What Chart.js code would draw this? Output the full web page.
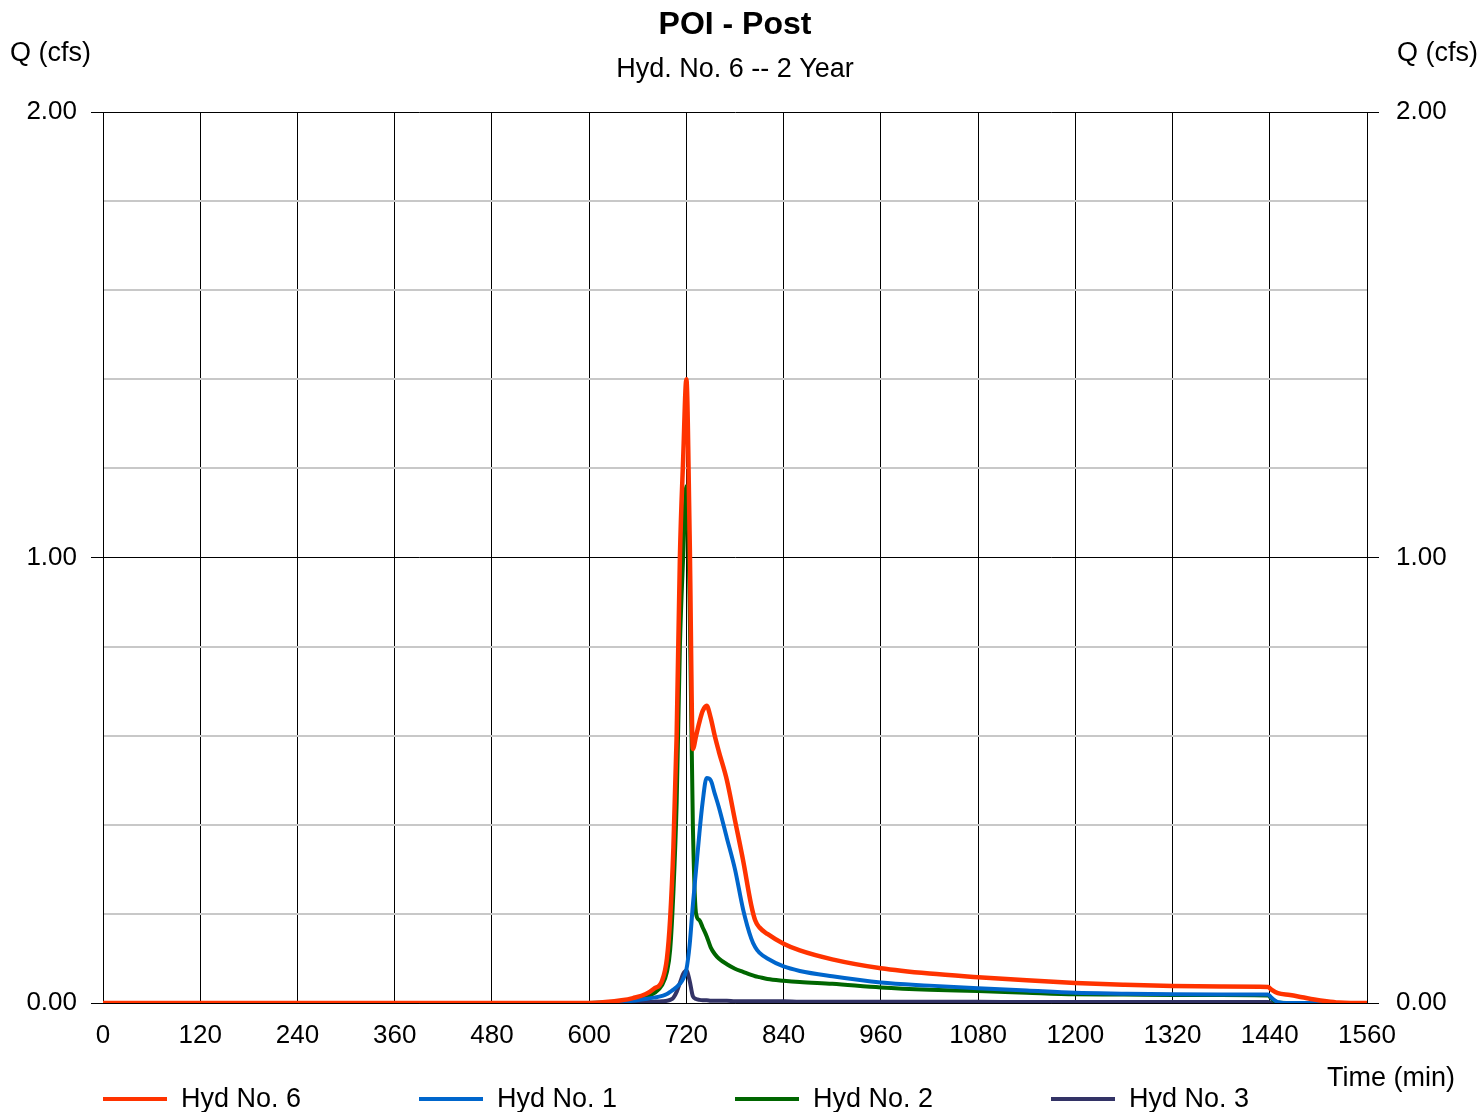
<!DOCTYPE html>
<html>
<head>
<meta charset="utf-8">
<script src="https://cdn.jsdelivr.net/npm/chart.js@4.4.1/dist/chart.umd.min.js"></script>
<style>
  html, body { margin: 0; padding: 0; background: #fff; }
  canvas { display: block; }
</style>
</head>
<body>
<canvas id="hydChart" width="1478" height="1112"></canvas>
<script>
const times = [0, 600, 620, 640, 654, 670, 680, 690, 696, 700, 704, 708, 712, 716, 720, 724, 728, 732, 736, 740, 745, 750, 755, 760, 770, 780, 790, 800, 805, 810, 820, 840, 860, 900, 960, 1020, 1080, 1140, 1200, 1260, 1320, 1380, 1438, 1442, 1450, 1465, 1480, 1495, 1510, 1525, 1540, 1560];

const hyd6 = [0, 0, 0.002, 0.006, 0.011, 0.02, 0.032, 0.05, 0.1, 0.19, 0.35, 0.6, 1.0, 1.22, 1.40, 1.05, 0.57, 0.60, 0.63, 0.655, 0.667, 0.64, 0.60, 0.565, 0.50, 0.41, 0.32, 0.22, 0.185, 0.17, 0.155, 0.133, 0.118, 0.098, 0.078, 0.066, 0.058, 0.051, 0.045, 0.041, 0.038, 0.037, 0.036, 0.03, 0.022, 0.018, 0.013, 0.008, 0.004, 0.001, 0, 0];
const hyd1 = [0, 0, 0.001, 0.003, 0.005, 0.009, 0.012, 0.016, 0.02, 0.025, 0.03, 0.036, 0.043, 0.054, 0.075, 0.13, 0.22, 0.30, 0.38, 0.45, 0.505, 0.50, 0.47, 0.44, 0.37, 0.30, 0.21, 0.145, 0.125, 0.113, 0.10, 0.082, 0.072, 0.06, 0.046, 0.039, 0.033, 0.028, 0.023, 0.021, 0.0195, 0.019, 0.019, 0.012, 0.002, 0, 0, 0, 0, 0, 0, 0];
const hyd2 = [0, 0, 0.001, 0.004, 0.008, 0.014, 0.022, 0.04, 0.07, 0.12, 0.25, 0.45, 0.8, 1.0, 1.16, 0.9, 0.4, 0.2, 0.186, 0.17, 0.15, 0.125, 0.11, 0.1, 0.087, 0.077, 0.07, 0.063, 0.06, 0.058, 0.054, 0.05, 0.047, 0.043, 0.035, 0.03, 0.027, 0.023, 0.0195, 0.019, 0.018, 0.018, 0.017, 0.01, 0.001, 0, 0, 0, 0, 0, 0, 0];
const hyd3 = [0, 0, 0, 0.001, 0.001, 0.002, 0.003, 0.004, 0.005, 0.007, 0.012, 0.025, 0.045, 0.065, 0.073, 0.05, 0.015, 0.009, 0.007, 0.006, 0.006, 0.005, 0.005, 0.005, 0.005, 0.004, 0.004, 0.004, 0.004, 0.004, 0.004, 0.004, 0.003, 0.003, 0.003, 0.003, 0.003, 0.002, 0.002, 0.002, 0.002, 0.002, 0.002, 0.001, 0, 0, 0, 0, 0, 0, 0, 0];

const seriesNames = ['Hyd No. 6', 'Hyd No. 1', 'Hyd No. 2', 'Hyd No. 3'];
const seriesColors = ['#ff3300', '#0066cc', '#006600', '#333366'];
const seriesValues = [hyd6, hyd1, hyd2, hyd3];

const FONT = '"Liberation Sans", Arial, sans-serif';

function isMajor(v) {
  return Math.abs(v - Math.round(v)) < 1e-6;
}

const textPlugin = {
  id: 'textPlugin',
  afterDraw(chart) {
    const c = chart.ctx;
    c.save();
    c.fillStyle = '#000';
    c.textBaseline = 'middle';
    c.textAlign = 'center';
    c.font = 'bold 32px ' + FONT;
    c.fillText('POI - Post', 735, 25);
    c.font = '27px ' + FONT;
    c.fillText('Hyd. No. 6 -- 2 Year', 735, 70);
    c.textAlign = 'left';
    c.fillText('Q (cfs)', 10, 54);
    c.fillText('Q (cfs)', 1397, 54);
    c.textAlign = 'right';
    c.fillText('Time (min)', 1455, 1079);
    // legend
    c.textAlign = 'left';
    seriesNames.forEach((name, i) => {
      const x0 = 103 + i * 316;
      c.strokeStyle = seriesColors[i];
      c.lineWidth = 4;
      c.beginPath();
      c.moveTo(x0, 1099);
      c.lineTo(x0 + 64, 1099);
      c.stroke();
      c.fillText(name, x0 + 78, 1100);
    });
    c.restore();
  }
};

const ctx = document.getElementById('hydChart').getContext('2d');
new Chart(ctx, {
  type: 'line',
  data: {
    datasets: seriesNames.map((name, i) => ({
      label: name,
      data: times.map((t, k) => ({ x: t, y: seriesValues[i][k] })),
      borderColor: seriesColors[i],
      backgroundColor: seriesColors[i],
      borderWidth: i === 0 ? 4.5 : 4,
      pointRadius: 0,
      fill: false,
      cubicInterpolationMode: 'monotone',
      yAxisID: 'y',
    })),
  },
  options: {
    responsive: false,
    animation: false,
    layout: {
      padding: { left: 0, right: 0, top: 112, bottom: 59 },
    },
    plugins: {
      legend: { display: false },
      tooltip: { enabled: false },
    },
    scales: {
      x: {
        type: 'linear',
        min: 0,
        max: 1560,
        afterFit: (scale) => { scale.height = 50; },
        ticks: {
          stepSize: 120,
          autoSkip: false,
          maxRotation: 0,
          padding: 17,
          color: '#000',
          font: { family: FONT, size: 26 },
          callback: (v) => String(v),
        },
        grid: {
          color: '#000',
          lineWidth: 1,
          drawTicks: false,
        },
        border: { display: true, color: '#000', width: 1 },
      },
      y: {
        position: 'left',
        min: 0,
        max: 2,
        afterFit: (scale) => { scale.width = 103; },
        ticks: {
          stepSize: 0.2,
          autoSkip: false,
          padding: 14,
          color: '#000',
          font: { family: FONT, size: 26 },
          callback: (v) => (isMajor(v) ? v.toFixed(2) : ''),
        },
        grid: {
          color: (c) => (isMajor(c.tick.value) ? '#000' : '#c8c8c8'),
          lineWidth: (c) => (isMajor(c.tick.value) ? 1 : 2),
          tickColor: (c) => (isMajor(c.tick.value) ? '#000' : 'rgba(0,0,0,0)'),
          tickLength: 12,
          tickWidth: 1,
        },
        border: { display: true, color: '#000', width: 1 },
      },
      y2: {
        position: 'right',
        min: 0,
        max: 2,
        afterFit: (scale) => { scale.width = 111; },
        ticks: {
          stepSize: 0.2,
          autoSkip: false,
          padding: 17,
          color: '#000',
          font: { family: FONT, size: 26 },
          callback: (v) => (isMajor(v) ? v.toFixed(2) : ''),
        },
        grid: {
          drawOnChartArea: false,
          tickColor: (c) => (isMajor(c.tick.value) ? '#000' : 'rgba(0,0,0,0)'),
          tickLength: 12,
          tickWidth: 1,
        },
        border: { display: true, color: '#000', width: 1 },
      },
    },
  },
  plugins: [textPlugin],
});
</script>
</body>
</html>
